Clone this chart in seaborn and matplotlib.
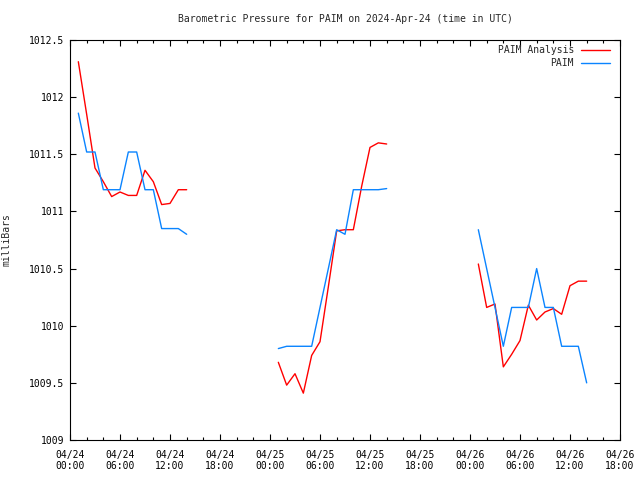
import seaborn as sns
import matplotlib.pyplot as plt
import matplotlib.dates as mdates
import matplotlib.ticker as mticker
import pandas as pd

# hours after 2024-04-24 00:00 UTC, three separate runs of data
seg1_hours = list(range(1, 15))
seg2_hours = list(range(25, 39))
seg3_hours = list(range(49, 63))

# PAIM Analysis (model) pressure, mb
analysis_1 = [1012.31, 1011.85, 1011.38, 1011.26, 1011.13, 1011.17, 1011.14,
              1011.14, 1011.36, 1011.26, 1011.06, 1011.07, 1011.19, 1011.19]
analysis_2 = [1009.68, 1009.48, 1009.58, 1009.41, 1009.74, 1009.86, 1010.34,
              1010.83, 1010.84, 1010.84, 1011.22, 1011.56, 1011.60, 1011.59]
analysis_3 = [1010.54, 1010.16, 1010.19, 1009.64, 1009.75, 1009.87, 1010.18,
              1010.05, 1010.12, 1010.15, 1010.10, 1010.35, 1010.39, 1010.39]

# PAIM observed pressure, mb
obs_1 = [1011.86, 1011.52, 1011.52, 1011.19, 1011.19, 1011.19, 1011.52,
         1011.52, 1011.19, 1011.19, 1010.85, 1010.85, 1010.85, 1010.80]
obs_2 = [1009.80, 1009.82, 1009.82, 1009.82, 1009.82, 1010.16, 1010.50,
         1010.84, 1010.80, 1011.19, 1011.19, 1011.19, 1011.19, 1011.20]
obs_3 = [1010.84, 1010.50, 1010.16, 1009.82, 1010.16, 1010.16, 1010.16,
         1010.50, 1010.16, 1010.16, 1009.82, 1009.82, 1009.82, 1009.50]

start = pd.Timestamp("2024-04-24 00:00")
end = pd.Timestamp("2024-04-26 18:00")

rows = []
for name, segs in [("PAIM Analysis", [analysis_1, analysis_2, analysis_3]),
                   ("PAIM", [obs_1, obs_2, obs_3])]:
    for k, (hrs, vals) in enumerate(zip([seg1_hours, seg2_hours, seg3_hours], segs)):
        for h, v in zip(hrs, vals):
            rows.append({"time": start + pd.Timedelta(hours=h), "mb": v,
                         "series": name, "seg": k})
df = pd.DataFrame(rows)

sns.set_style("ticks")
plt.rcParams['font.family'] = ['DejaVu Sans Mono']
plt.rcParams['font.size'] = 7

fig = plt.figure(figsize=(6.4, 4.8), dpi=100)
ax = fig.add_axes([70/640, 40/480, 550/640, 400/480])

sns.lineplot(data=df, x="time", y="mb", hue="series", units="seg",
             estimator=None, hue_order=["PAIM Analysis", "PAIM"],
             palette={"PAIM Analysis": "#ff0000", "PAIM": "#0a84ff"},
             linewidth=1.0, ax=ax)

ax.set_xlim(start, end)
ax.set_ylim(1009, 1012.5)
ax.xaxis.set_major_locator(mdates.HourLocator(byhour=[0, 6, 12, 18]))
ax.xaxis.set_minor_locator(mdates.HourLocator(interval=2))
ax.xaxis.set_major_formatter(mdates.DateFormatter("%m/%d\n%H:%M"))
ax.yaxis.set_major_locator(mticker.MultipleLocator(0.5))
ax.yaxis.set_major_formatter(mticker.FormatStrFormatter("%g"))

ax.tick_params(which="both", direction="in", top=True, right=True,
               colors="black", width=0.8)
ax.tick_params(which="major", length=4)
ax.tick_params(which="minor", length=2.5)
ax.tick_params(axis="x", which="major", pad=7, labelsize=7)
ax.tick_params(axis="y", which="major", pad=4, labelsize=7)
for sp in ax.spines.values():
    sp.set_color("black")
    sp.set_linewidth(0.8)

ax.set_xlabel("")
ax.set_ylabel("milliBars", fontsize=7)
ax.yaxis.set_label_coords(-0.106, 0.5)
ax.set_title("Barometric Pressure for PAIM on 2024-Apr-24 (time in UTC)",
             fontsize=7, pad=13)

handles, labels = ax.get_legend_handles_labels()
ax.legend(handles, labels, loc="upper right",
          bbox_to_anchor=(1 - 10/550, 1 - 5/400), frameon=False,
          markerfirst=False, fontsize=7, handlelength=3.0, handletextpad=0.7,
          labelspacing=0.35, borderaxespad=0, borderpad=0)

fig.savefig("out.png", dpi=100)
